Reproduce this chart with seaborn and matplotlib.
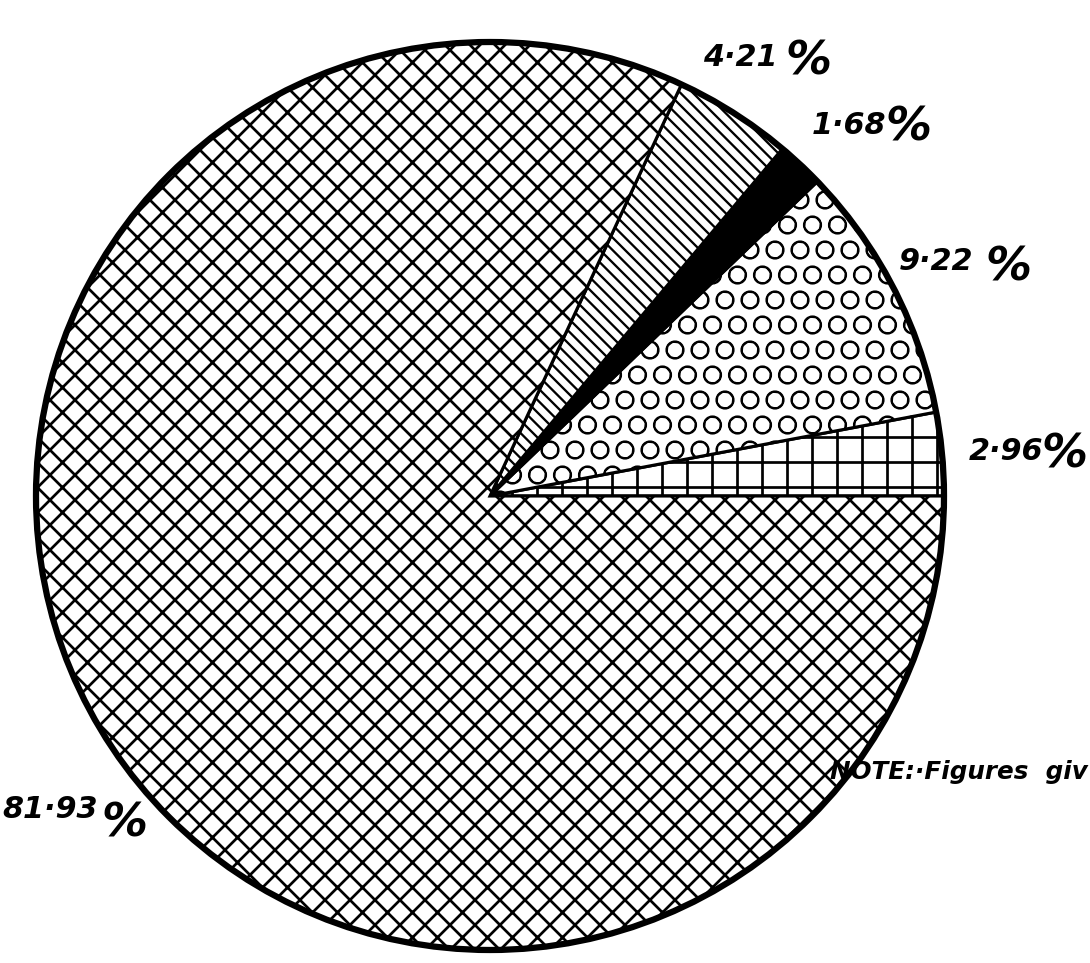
import matplotlib
matplotlib.use("Agg")
import matplotlib.pyplot as plt
import seaborn as sns

# ---------------- DATA ----------------
labels = ["2·96", "9·22", "1·68", "4·21", "81·93"]
shares = [2.96, 9.22, 1.68, 4.21, 81.93]
note = "NOTE:·Figures  giv"

# ---------------- STYLE ----------------
sns.set_theme(style="white")
plt.rcParams["font.family"] = ["DejaVu Sans"]
plt.rcParams["hatch.linewidth"] = 1.3
plt.rcParams["hatch.color"] = "black"

hatches = ["+", "O", "", "\\\\\\\\", "xx"]
hatch_lw = [1.3, 0.8, 1.3, 1.1, 1.3]
fills = ["white", "white", "black", "white", "white"]

# dpi 150 so that the hatch patterns get the spacing of the scan
W, H, DPI = 1090, 963, 150
fig = plt.figure(figsize=(W / DPI, H / DPI), dpi=DPI)
ax = fig.add_axes([0, 0, 1, 1])

cx, cy, r = 490, H - 496, 454
wedges, _ = ax.pie(shares, startangle=0, counterclock=True,
                   center=(cx, cy), radius=r,
                   colors=fills, frame=True,
                   wedgeprops=dict(edgecolor="black", linewidth=1.5))
for w, h, lw in zip(wedges, hatches, hatch_lw):
    w.set_hatch(h)
    if hasattr(w, "set_hatch_linewidth"):
        w.set_hatch_linewidth(lw)

# thick outer rim
ax.add_patch(plt.Circle((cx, cy), r, fill=False, lw=3.0, color="black"))
ax.set_xlim(0, W)
ax.set_ylim(0, H)
ax.set_aspect("equal")
ax.axis("off")

# label positions (pixel coords, top origin)
label_pos = [(1006, 452), (936, 262), (849, 125), (740, 57), (50, 810)]
pct_pos = [(1064, 455), (1008, 268), (908, 128), (808, 62), (124, 824)]
txt = dict(style="italic", weight="bold", color="black",
           ha="center", va="center")
for lab, (x, y), (px, py) in zip(labels, label_pos, pct_pos):
    ax.text(x, H - y, lab, fontsize=14.5, **txt)
    ax.text(px, H - py, "%", fontsize=22, **txt)

ax.text(830, H - 772, note, fontsize=11.8, style="italic", weight="bold",
        ha="left", va="center", color="black")

fig.savefig("out.png", dpi=DPI, facecolor="white")
